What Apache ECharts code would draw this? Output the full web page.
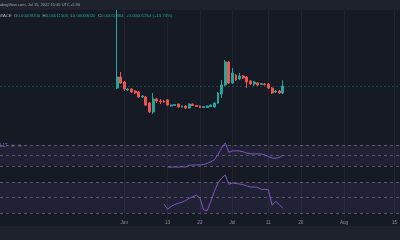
<!DOCTYPE html>
<html><head><meta charset="utf-8">
<script src="https://cdn.jsdelivr.net/npm/echarts@6/dist/echarts.min.js"></script>
<style>html,body{margin:0;padding:0;background:#161a25;}#c{width:400px;height:240px;}</style>
</head><body><div id="c"></div>
<script>
// ---- data (prices in units of 1e-8) ----
const axisStartDate = '2022-04-28';
const axisDayCount = 111;
const candleStartDate = '2022-05-30';
const candleOpen  = [10100,12090,11190,9740,9920,9560,9380,8480,8480,7390,5770,8120,7760,7760,7940,6850,6940,7210,6670,6850,6490,7210,6940,6850,6580,6580,6760,6670,7390,9020,10650,14800,11010,12450,11730,12270,12090,11370,10830,11010,10750,10830,10830,10100,9380,9560,9200];
const candleHigh  = [30000,12990,11370,10100,10100,9740,9560,8840,8660,7570,9200,8300,8120,7940,8120,7100,7210,7300,6940,6940,7300,7300,7030,6940,6850,6940,7120,7480,9380,11550,15160,14980,13710,12630,12810,12450,12270,11550,11370,11190,11010,11010,11010,10280,9740,9740,11500];
const candleLow   = [9920,10830,9560,9560,9200,9020,8300,8300,6850,5590,5410,7390,7210,7390,6850,6700,6850,6580,6580,6310,6400,6850,6670,6490,6490,6490,6670,6580,7210,8300,10460,10830,10830,11370,11550,11730,10100,10650,10460,10460,10650,10550,9920,9020,9200,9020,9020];
const candleClose = [12090,11010,9920,9920,9380,9200,8480,8660,7030,5770,8120,7760,7570,7570,7030,7030,7120,6670,6850,6490,7210,6940,6760,6580,6760,6850,7030,7390,9200,10650,14800,11010,12810,11550,12270,11910,11190,10830,11190,10650,10900,10700,10100,9200,9560,9200,10464];

const paneAStartDate = '2022-06-13';
const paneAValues = [28,28,28,28,28.5,28,31.5,32,32,32,33,35,38,42,52,64,74,56,58.6,59,58.6,57,54.5,53.5,53,53,52.9,51,48,45,45,46,51];
const paneBStartDate = '2022-06-12';
const paneBValues = [41.6,35,38.5,41,42.5,44,46,49,51,53,49,34,33,45,58,69,75,79,67,68.7,68,67.4,66.5,65,63.5,63.5,63,60.5,60.5,60,40,45,41,36];
const bandLevels = [30,50,70];

const tickDates  = ['2022-06-01','2022-06-13','2022-06-22','2022-07-01','2022-07-11','2022-07-20','2022-08-01','2022-08-15'];
const tickLabels = ['Jun','13','22','Jul','11','20','Aug','15'];

// ---- build ----
const DAY = 86400000;
const t0 = Date.parse(axisStartDate + 'T00:00:00Z');
const categories = [];
for (let i = 0; i < axisDayCount; i++) categories.push(new Date(t0 + i * DAY).toISOString().slice(0, 10));
const idxOf = d => categories.indexOf(d);
const cStart = idxOf(candleStartDate);
const candleData = candleOpen.map((o, i) => [cStart + i, o, candleClose[i], candleLow[i], candleHigh[i]]);
const aStart = idxOf(paneAStartDate), bStart = idxOf(paneBStartDate);
const paneAData = paneAValues.map((v, i) => [aStart + i, v]);
const paneBData = paneBValues.map((v, i) => [bStart + i, v]);
const tickMap = {}; tickDates.forEach((d, i) => tickMap[d] = tickLabels[i]);
const isTick = (idx, val) => tickMap[val] !== undefined;
const lastClose = candleClose[candleClose.length - 1];

const UP = '#26a69a', DOWN = '#ef5350', PURPLE = '#7e57c2';
const FONT = 'Liberation Sans';
const hiddenX = gi => ({type:'category', gridIndex:gi, data:categories, boundaryGap:true, show:false});
const bandDecor = () => ({
  markArea: {silent:true, itemStyle:{color:'rgba(126,87,194,0.11)'}, data:[[{yAxis:bandLevels[0]},{yAxis:bandLevels[2]}]]},
  markLine: {silent:true, symbol:'none', label:{show:false}, lineStyle:{color:'rgba(120,123,134,0.6)', type:[3,3], width:1},
             data: bandLevels.map(v => ({yAxis:v}))}
});

const fmt = v => (v * 1e-8).toFixed(8);
const chg = lastClose - candleOpen[candleOpen.length-1];
const pct = (chg / candleOpen[candleOpen.length-1] * 100).toFixed(2);

const option = {
  backgroundColor: '#161a25',
  animation: false,
  grid: [
    {left:0, right:0, top:10, height:128},
    {left:0, right:0, top:139.75, height:31.5},
    {left:0, right:0, top:174.25, height:46.5},
    {left:0, right:0, top:10, height:209}
  ],
  xAxis: [hiddenX(0), hiddenX(1), hiddenX(2), {
    type:'category', gridIndex:3, data:categories, boundaryGap:true,
    axisLine:{show:false}, axisTick:{show:false},
    axisLabel:{interval:isTick, formatter:v => tickMap[v] || '', fontSize:4.6, color:'#8f929c', margin:1.5, fontFamily:FONT},
    splitLine:{show:true, alignWithLabel:true, interval:isTick, lineStyle:{color:'#20242f', width:1}}
  }],
  yAxis: [
    {type:'value', gridIndex:0, min:1073, max:24190, show:false},
    {type:'value', gridIndex:1, min:20, max:80, show:false},
    {type:'value', gridIndex:2, min:20, max:80, show:false},
    {type:'value', gridIndex:3, min:0, max:1, show:false}
  ],
  series: [
    {type:'candlestick', xAxisIndex:0, yAxisIndex:0, data:candleData, encode:{x:0, y:[1,2,3,4]},
     barWidth:2.4, clip:true,
     itemStyle:{color:UP, color0:DOWN, borderColor:UP, borderColor0:DOWN, borderWidth:1},
     markLine:{silent:true, symbol:'none', label:{show:false},
       lineStyle:{color:'rgba(38,166,154,0.3)', type:[2,2], width:1}, data:[{yAxis:lastClose}]}},
    Object.assign({type:'line', xAxisIndex:1, yAxisIndex:1, data:paneAData, symbol:'none',
     lineStyle:{color:PURPLE, width:1}}, bandDecor()),
    Object.assign({type:'line', xAxisIndex:2, yAxisIndex:2, data:paneBData, symbol:'none',
     lineStyle:{color:PURPLE, width:1}}, bandDecor())
  ],
  graphic: [
    {type:'rect', shape:{x:0, y:0, width:400, height:10}, style:{fill:'#1e222d'}, silent:true, z:10},
    {type:'rect', shape:{x:0, y:226, width:400, height:14}, style:{fill:'#1e222d'}, silent:true, z:10},
    {type:'text', x:-5, y:5, z:11, silent:true, style:{text:'TradingView.com, Jul 15, 2022 15:45 UTC+5:30',
      fill:'#a3a6af', font:'4px "' + FONT + '"', verticalAlign:'middle'}},
    {type:'text', x:-1, y:15.5, z:11, silent:true, style:{
      text:'{n|WACE}  {k|O}{v|' + fmt(candleOpen[46]) + '}  {k|H}{v|' + fmt(candleHigh[46]) + '}  {k|L}{v|' + fmt(candleLow[46]) +
           '}  {k|C}{v|' + fmt(lastClose) + '}  {v|+' + fmt(chg) + ' (+' + pct + '%)}',
      verticalAlign:'middle', font:'4.3px "' + FONT + '"',
      rich:{n:{fill:'#b2b5be', fontSize:4.3, fontFamily:FONT}, k:{fill:'#b2b5be', fontSize:4.3, fontFamily:FONT},
            v:{fill:UP, fontSize:4.3, fontFamily:FONT}}}},
    {type:'text', x:0, y:145.5, z:11, silent:true, style:{text:'{p|L17} {g|⊙} {g|⊙}', verticalAlign:'middle',
      rich:{p:{fill:'#9575cd', fontSize:4.5, fontFamily:FONT}, g:{fill:'#787b86', fontSize:4.5, fontFamily:'DejaVu Sans'}}}}
  ]
};
echarts.init(document.getElementById('c'), null, {renderer:'canvas'}).setOption(option);
</script></body></html>
